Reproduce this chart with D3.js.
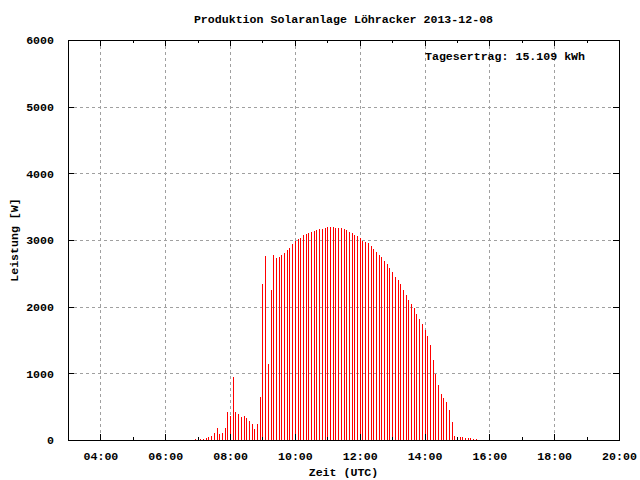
<!DOCTYPE html>
<html>
<head>
<meta charset="utf-8">
<script src="https://cdn.jsdelivr.net/npm/d3@7"></script>
<style>
  html, body { margin: 0; padding: 0; background: #fff; }
  svg text { font-family: "Liberation Mono", "DejaVu Sans Mono", monospace; font-weight: bold; font-size: 11.6px; fill: #000; }
</style>
</head>
<body>
<script>
// ---- data ----
const title = "Produktion Solaranlage Löhracker 2013-12-08";
const yLabel = "Leistung [W]";
const xLabel = "Zeit (UTC)";
const dailyYield = "Tagesertrag: 15.109 kWh";

const times = [
  "06:55","07:00","07:05","07:10","07:15","07:20","07:25","07:30","07:35","07:40","07:45","07:50","07:55",
  "08:00","08:05","08:10","08:15","08:20","08:25","08:30","08:35","08:40","08:45","08:50","08:55",
  "09:00","09:05","09:10","09:15","09:20","09:25","09:30","09:35","09:40","09:45","09:50","09:55",
  "10:00","10:05","10:10","10:15","10:20","10:25","10:30","10:35","10:40","10:45","10:50","10:55",
  "11:00","11:05","11:10","11:15","11:20","11:25","11:30","11:35","11:40","11:45","11:50","11:55",
  "12:00","12:05","12:10","12:15","12:20","12:25","12:30","12:35","12:40","12:45","12:50","12:55",
  "13:00","13:05","13:10","13:15","13:20","13:25","13:30","13:35","13:40","13:45","13:50","13:55",
  "14:00","14:05","14:10","14:15","14:20","14:25","14:30","14:35","14:40","14:45","14:50","14:55",
  "15:00","15:05","15:10","15:15","15:20","15:25","15:30","15:35"
];
const watts = [
  10,25,15,15,30,45,60,105,180,90,105,180,420,
  365,950,420,395,345,360,330,285,240,165,240,645,
  2340,2760,1140,2250,2775,2730,2745,2775,2805,2850,2880,2940,
  2980,3015,3030,3075,3090,3105,3120,3135,3150,3165,3165,3180,
  3195,3195,3195,3180,3180,3180,3165,3150,3120,3105,3075,3060,
  3030,2985,2970,2955,2910,2865,2820,2775,2745,2685,2640,2580,
  2520,2445,2400,2340,2250,2175,2100,2040,1980,1890,1815,1740,
  1650,1560,1425,1200,990,825,690,630,570,450,270,60,
  45,45,45,30,30,30,15,15
];
const darkTimes = ["07:00"];

const xMajorTicks = ["04:00","06:00","08:00","10:00","12:00","14:00","16:00","18:00","20:00"];
const xMinorTicks = ["03:00","05:00","07:00","09:00","11:00","13:00","15:00","17:00","19:00"];
const yTicks = [0,1000,2000,3000,4000,5000,6000];
const xDomain = ["03:00","20:00"];
const yDomain = [0,6000];

// ---- helpers ----
const toHours = s => { const [h,m] = s.split(":").map(Number); return h + m/60; };

const W = 640, H = 480;
const L = 68, R = 619, T = 40, B = 440;

const svg = d3.select("body").append("svg").attr("width", W).attr("height", H);

const x = d3.scaleLinear().domain(xDomain.map(toHours)).range([L, R]);
const y = d3.scaleLinear().domain(yDomain).range([B, T]);

// grid
const grid = svg.append("g").attr("stroke", "#a0a0a0").attr("stroke-width", 1).attr("stroke-dasharray", "3,3").attr("shape-rendering", "crispEdges");
xMajorTicks.map(toHours).filter(h => h > 3 && h < 20).forEach(h => {
  grid.append("line").attr("x1", Math.round(x(h)) + 0.5).attr("x2", Math.round(x(h)) + 0.5).attr("y1", T).attr("y2", B);
});
yTicks.filter(v => v > 0 && v < 6000).forEach(v => {
  grid.append("line").attr("x1", L).attr("x2", R).attr("y1", Math.round(y(v)) + 0.5).attr("y2", Math.round(y(v)) + 0.5);
});

// bars (impulses)
const data = times.map((t, i) => ({ t, h: toHours(t), v: watts[i] }));
svg.append("g").selectAll("rect").data(data).join("rect")
  .attr("x", d => Math.round(x(d.h)))
  .attr("width", 1)
  .attr("y", d => y(d.v))
  .attr("height", d => y(0) - y(d.v))
  .attr("fill", d => darkTimes.includes(d.t) ? "#000" : "#ff0000")
  .attr("shape-rendering", "crispEdges");

// axes
const fmt = h => String(Math.floor(h)).padStart(2, "0") + ":00";
const xAxisB = d3.axisBottom(x).tickValues(xMajorTicks.map(toHours)).tickFormat(fmt).tickSizeInner(-6).tickSizeOuter(0).tickPadding(12);
svg.append("g").attr("transform", `translate(0,${B})`).call(xAxisB);
const xAxisBm = d3.axisBottom(x).tickValues(xMinorTicks.map(toHours)).tickFormat("").tickSizeInner(-3).tickSizeOuter(0);
svg.append("g").attr("transform", `translate(0,${B})`).call(xAxisBm);
const xAxisT = d3.axisTop(x).tickValues(xMajorTicks.map(toHours)).tickFormat("").tickSizeInner(-6).tickSizeOuter(0);
svg.append("g").attr("transform", `translate(0,${T})`).call(xAxisT);
const xAxisTm = d3.axisTop(x).tickValues(xMinorTicks.map(toHours)).tickFormat("").tickSizeInner(-3).tickSizeOuter(0);
svg.append("g").attr("transform", `translate(0,${T})`).call(xAxisTm);

const yAxisL = d3.axisLeft(y).tickValues(yTicks).tickFormat(d3.format("d")).tickSizeInner(-6).tickSizeOuter(0).tickPadding(14);
svg.append("g").attr("transform", `translate(${L},0)`).call(yAxisL);
const yAxisR = d3.axisRight(y).tickValues(yTicks).tickFormat("").tickSizeInner(-6).tickSizeOuter(0);
svg.append("g").attr("transform", `translate(${R},0)`).call(yAxisR);

svg.selectAll(".domain").remove();
svg.selectAll(".tick line").attr("stroke", "#000").attr("shape-rendering", "crispEdges");
svg.selectAll(".tick text").attr("font-family", null).attr("font-size", null);

// frame
svg.append("rect").attr("x", L + 0.5).attr("y", T + 0.5).attr("width", R - L).attr("height", B - T)
  .attr("fill", "none").attr("stroke", "#000").attr("stroke-width", 1).attr("shape-rendering", "crispEdges");

// texts
svg.append("text").attr("x", (L + R) / 2).attr("y", 23).attr("text-anchor", "middle").text(title);
svg.append("text").attr("x", 425).attr("y", 60).attr("text-anchor", "start").text(dailyYield);
svg.append("text").attr("x", (L + R) / 2).attr("y", 476).attr("text-anchor", "middle").text(xLabel);
svg.append("text").attr("transform", "translate(18,240) rotate(-90)").attr("text-anchor", "middle").text(yLabel);
</script>
</body>
</html>
